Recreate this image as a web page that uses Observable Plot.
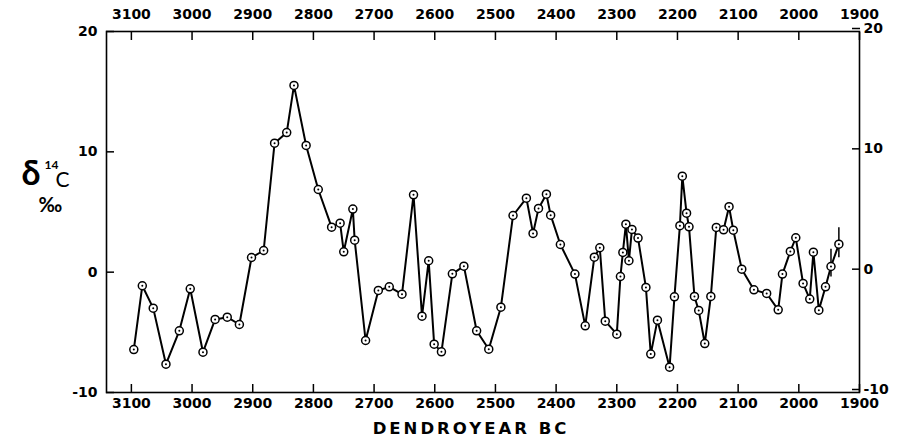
<!DOCTYPE html>
<html>
<head>
<meta charset="utf-8">
<script src="https://cdn.jsdelivr.net/npm/d3@7"></script>
<script src="https://cdn.jsdelivr.net/npm/@observablehq/plot@0.6"></script>
<style>
  html, body { margin: 0; padding: 0; background: #fff; }
  #chart svg { display: block; }
</style>
</head>
<body>
<div id="chart"></div>
<script>
const years = [3096,3082,3064,3043,3021,3003,2982,2962,2942,2922,2902,2882,2864,2844,2832,2812,2792,2770,2756,2750,2735,2732,2714,2693,2675,2654,2635,2621,2610,2601,2589,2571,2552,2531,2511,2491,2471,2449,2438,2429,2416,2409,2393,2369,2352,2337,2328,2319,2300,2294,2290,2285,2280,2275,2265,2252,2244,2233,2213,2205,2196,2192,2185,2181,2172,2165,2155,2145,2136,2124,2115,2108,2094,2074,2053,2034,2027,2014,2005,1993,1982,1976,1967,1956,1947,1934];
const delta14C = [-6.43,-1.13,-2.99,-7.65,-4.87,-1.38,-6.65,-3.93,-3.74,-4.35,1.22,1.8,10.72,11.6,15.52,10.53,6.87,3.74,4.07,1.69,5.24,2.66,-5.68,-1.52,-1.22,-1.83,6.43,-3.66,0.95,-5.98,-6.62,-0.14,0.5,-4.87,-6.4,-2.91,4.71,6.15,3.22,5.3,6.48,4.74,2.3,-0.16,-4.46,1.25,2.03,-4.07,-5.15,-0.36,1.64,3.99,0.95,3.55,2.83,-1.27,-6.81,-3.99,-7.9,-2.05,3.86,7.98,4.9,3.77,-2.02,-3.18,-5.93,-2.02,3.72,3.52,5.44,3.49,0.25,-1.47,-1.77,-3.13,-0.16,1.72,2.86,-0.94,-2.24,1.66,-3.16,-1.22,0.47,2.33];
const errYears = [1947, 1934];
const errLow = [-0.4, 1.2];
const errHigh = [1.9, 3.7];
const xTicks = [3100,3000,2900,2800,2700,2600,2500,2400,2300,2200,2100,2000,1900];
const yTicks = [-10,0,10,20];
const xLabel = "DENDROYEAR BC";

const data = years.map((y, i) => ({year: y, value: delta14C[i]}));
const errs = errYears.map((y, i) => ({year: y, lo: errLow[i], hi: errHigh[i]}));

const font = "'DejaVu Sans', sans-serif";
const font2 = "Lato, 'DejaVu Sans', sans-serif";

const chart = Plot.plot({
  width: 904,
  height: 443,
  marginLeft: 106,
  marginRight: 45,
  marginTop: 31,
  marginBottom: 51,
  style: {fontFamily: font, fontSize: "14px", fontWeight: "bold", color: "#000", background: "#fff"},
  x: {domain: [3141, 1900]},
  y: {domain: [-10, 20]},
  marks: [
    Plot.frame({stroke: "#000", strokeWidth: 1.6}),
    Plot.axisX({anchor: "bottom", ticks: xTicks, tickSize: -8, tickPadding: 14, tickFormat: d => String(d), label: null, strokeWidth: 1.5}),
    Plot.axisX({anchor: "top", ticks: xTicks, tickSize: -8, tickPadding: 21, tickFormat: d => String(d), label: null, strokeWidth: 1.5}),
    Plot.axisY({anchor: "left", ticks: yTicks, tickSize: -8, tickPadding: 17, tickFormat: d => String(d), label: null, strokeWidth: 1.5}),
    Plot.axisY({anchor: "right", ticks: yTicks, tickSize: -8, tickPadding: 12, dy: -3, tickFormat: d => String(d), label: null, strokeWidth: 1.5}),
    Plot.text([xLabel], {frameAnchor: "bottom", dy: 41, dx: -12, text: d => d, fontSize: 16.5, fontWeight: "bold", fill: "#000"}),
    Plot.text(["δ"], {frameAnchor: "left", dx: -85, dy: -38, text: d => d, fontSize: 34, fontWeight: "bold", fontFamily: font2, fill: "#000"}),
    Plot.text(["14"], {frameAnchor: "left", dx: -62, dy: -47, text: d => d, fontSize: 12, fontWeight: "bold", fontFamily: font2, fill: "#000"}),
    Plot.text(["C"], {frameAnchor: "left", dx: -51, dy: -32, text: d => d, fontSize: 21, fontWeight: "normal", fontFamily: font2, fill: "#000"}),
    Plot.text(["‰"], {frameAnchor: "left", dx: -68, dy: -6, text: d => d, fontSize: 20, fontWeight: "bold", fontFamily: font2, fill: "#000"}),
    Plot.ruleX(errs, {x: "year", y1: "lo", y2: "hi", stroke: "#000", strokeWidth: 1.5}),
    Plot.line(data, {x: "year", y: "value", stroke: "#000", strokeWidth: 2}),
    Plot.dot(data, {x: "year", y: "value", r: 4, fill: "#fff", stroke: "#000", strokeWidth: 1.5}),
    Plot.dot(data, {x: "year", y: "value", r: 1, fill: "#000", stroke: "none"})
  ]
});
d3.select(chart).selectAll("text").filter(function() { return this.textContent === xLabel; })
  .style("letter-spacing", "3px");
document.getElementById("chart").appendChild(chart);
</script>
</body>
</html>
